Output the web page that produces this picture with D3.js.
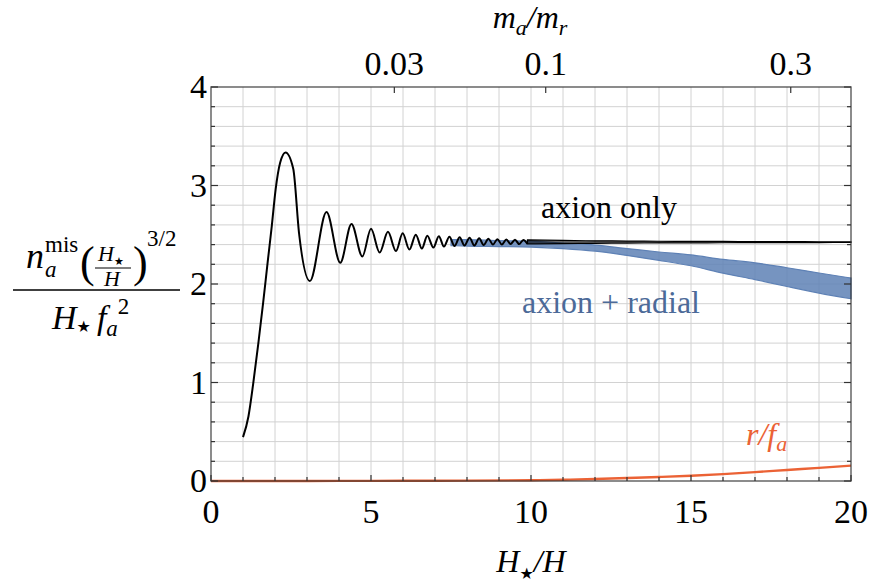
<!DOCTYPE html>
<html>
<head>
<meta charset="utf-8">
<script src="https://cdn.jsdelivr.net/npm/d3@7"></script>
<style>
  body { margin: 0; background: #fff; }
  text { font-family: "Liberation Serif", "DejaVu Serif", serif; fill: #000; }
  .it { font-style: italic; }
</style>
</head>
<body>
<svg id="chart" width="870" height="588"></svg>
<script>
// ---- data ----
var xTicks = [0, 5, 10, 15, 20];
var yTicks = [0, 1, 2, 3, 4];
var topTicks = [0.03, 0.1, 0.3];
var topTickLabels = ["0.03", "0.1", "0.3"];
var topMax = 0.3656;   // m_a/m_r at H*/H = 20

// axion only : rise + resolved extrema
var axionX = [1.0, 1.17, 1.32, 1.48, 1.63, 1.77, 1.90, 2.02, 2.16, 2.33, 2.57, 2.75, 3.09,
  3.61, 4.04, 4.39, 4.73, 5.0, 5.27, 5.53, 5.78, 5.99, 6.20, 6.40, 6.59, 6.76, 6.95, 7.12,
  7.28, 7.45, 7.61, 7.77, 7.92, 8.08, 8.23, 8.38, 8.52, 8.67, 8.81, 8.95, 9.09, 9.23,
  9.36, 9.50, 9.63, 9.76, 9.89];
var axionY = [0.445, 0.655, 0.99, 1.40, 1.81, 2.22, 2.59, 2.96, 3.23, 3.335, 3.17, 2.52, 2.03,
  2.73, 2.216, 2.61, 2.28, 2.56, 2.32, 2.53, 2.334, 2.514, 2.35, 2.50, 2.36, 2.49, 2.37, 2.486,
  2.38, 2.48, 2.385, 2.475, 2.39, 2.47, 2.39, 2.465, 2.395, 2.46, 2.40, 2.455, 2.40, 2.452,
  2.405, 2.45, 2.405, 2.447, 2.408];

// axion only : dense part, envelope of the oscillation
var axionBandX = [9.89, 11, 12, 13, 14, 15, 16, 17, 18, 19, 20];
var axionBandHi = [2.447, 2.442, 2.438, 2.436, 2.434, 2.433, 2.432, 2.431, 2.430, 2.429, 2.429];
var axionBandLo = [2.408, 2.410, 2.413, 2.415, 2.417, 2.418, 2.419, 2.420, 2.421, 2.421, 2.422];

// axion + radial : envelope of the oscillation
var radialX = [7.5, 8, 9, 10, 11, 12, 13, 14, 15, 16, 17, 18, 19, 20];
var radialHi = [2.45, 2.45, 2.44, 2.435, 2.415, 2.395, 2.36, 2.325, 2.295, 2.25, 2.215, 2.165, 2.112, 2.06];
var radialLo = [2.39, 2.385, 2.38, 2.375, 2.36, 2.334, 2.29, 2.24, 2.185, 2.11, 2.045, 1.975, 1.908, 1.85];

// r / f_a
var rX = [0, 2, 4, 6, 8, 10, 11, 12, 13, 14, 15, 16, 17, 18, 19, 20];
var rY = [0, 0, 0.001, 0.002, 0.004, 0.008, 0.013, 0.02, 0.03, 0.041, 0.054, 0.07, 0.09, 0.112, 0.133, 0.156];

// ---- drawing ----
var svg = d3.select("#chart");
var pL = 211, pR = 851, pT = 87, pB = 481;

var x = d3.scaleLinear().domain([0, 20]).range([pL, pR]);
var y = d3.scaleLinear().domain([0, 4]).range([pB, pT]);
var xTop = d3.scalePow().exponent(0.5).domain([0, topMax]).range([pL, pR]);

// grid
var grid = svg.append("g").attr("stroke", "#d2d2d2").attr("stroke-width", 1);
grid.selectAll("line.gx").data(d3.range(1, 20)).enter().append("line")
  .attr("x1", function(d) { return x(d); }).attr("x2", function(d) { return x(d); })
  .attr("y1", pT).attr("y2", pB);
grid.selectAll("line.gy").data(d3.range(1, 20).map(function(i) { return i * 0.2; })).enter().append("line")
  .attr("y1", function(d) { return y(d); }).attr("y2", function(d) { return y(d); })
  .attr("x1", pL).attr("x2", pR);

function pts(xs, ys) { return xs.map(function(v, i) { return [v, ys[i]]; }); }
function band(xs, hi, lo) { return xs.map(function(v, i) { return [v, hi[i], lo[i]]; }); }

var line = d3.line().curve(d3.curveMonotoneX)
  .x(function(d) { return x(d[0]); }).y(function(d) { return y(d[1]); });
var area = d3.area().curve(d3.curveMonotoneX)
  .x(function(d) { return x(d[0]); })
  .y0(function(d) { return y(d[2]); }).y1(function(d) { return y(d[1]); });

// axion + radial band
svg.append("path").datum(band(radialX, radialHi, radialLo))
  .attr("d", area).attr("fill", "#5E81B5").attr("fill-opacity", 0.85)
  .attr("stroke", "#5E81B5").attr("stroke-width", 1.2);

// axion only
svg.append("path").datum(pts(axionX, axionY))
  .attr("d", line).attr("fill", "none").attr("stroke", "#000").attr("stroke-width", 2);
svg.append("path").datum(band(axionBandX, axionBandHi, axionBandLo))
  .attr("d", area).attr("fill", "#000").attr("fill-opacity", 0.6)
  .attr("stroke", "#000").attr("stroke-width", 1.2);

// r/f_a
svg.append("path").datum(pts(rX, rY))
  .attr("d", line).attr("fill", "none").attr("stroke", "#EB6235").attr("stroke-width", 2.4);

// frame
svg.append("rect").attr("x", pL).attr("y", pT).attr("width", pR - pL).attr("height", pB - pT)
  .attr("fill", "none").attr("stroke", "#333").attr("stroke-width", 1.4).attr("stroke-opacity", 0.8);

// ticks
var ticks = svg.append("g").attr("stroke", "#333").attr("stroke-width", 1.2);
d3.range(0, 21).forEach(function(i) {
  var len = (i % 5 === 0) ? 6 : 4;
  ticks.append("line").attr("x1", x(i)).attr("x2", x(i)).attr("y1", pB).attr("y2", pB - len);
});
d3.range(0, 21).forEach(function(i) {
  var v = i * 0.2, len = (i % 5 === 0) ? 7 : 4;
  ticks.append("line").attr("y1", y(v)).attr("y2", y(v)).attr("x1", pL).attr("x2", pL + len);
  ticks.append("line").attr("y1", y(v)).attr("y2", y(v)).attr("x1", pR).attr("x2", pR - len);
});
topTicks.forEach(function(t) {
  ticks.append("line").attr("x1", xTop(t)).attr("x2", xTop(t)).attr("y1", pT).attr("y2", pT + 6);
});

// tick labels
var fs = 32, tfs = 34;
svg.selectAll("text.xt").data(xTicks).enter().append("text")
  .attr("x", function(d) { return x(d); }).attr("y", 523)
  .attr("text-anchor", "middle").attr("font-size", tfs).text(function(d) { return d; });
svg.selectAll("text.yt").data(yTicks).enter().append("text")
  .attr("x", 207).attr("y", function(d) { return y(d) + 11; })
  .attr("text-anchor", "end").attr("font-size", tfs).text(function(d) { return d; });
svg.selectAll("text.tt").data(topTicks).enter().append("text")
  .attr("x", function(d) { return xTop(d); }).attr("y", 75)
  .attr("text-anchor", "middle").attr("font-size", tfs).text(function(d, i) { return topTickLabels[i]; });

// axis titles
var tb = svg.append("text").attr("x", 531).attr("y", 572).attr("text-anchor", "middle").attr("font-size", fs);
tb.append("tspan").attr("class", "it").text("H");
tb.append("tspan").attr("font-size", 16).attr("dy", 7).attr("font-family", "DejaVu Sans").text("★");
tb.append("tspan").attr("dy", -7).attr("class", "it").text("/H");

var tt = svg.append("text").attr("x", 530).attr("y", 28).attr("text-anchor", "middle").attr("font-size", fs);
tt.append("tspan").attr("class", "it").text("m");
tt.append("tspan").attr("class", "it").attr("font-size", 22).attr("dy", 7).text("a");
tt.append("tspan").attr("class", "it").attr("dy", -7).text("/m");
tt.append("tspan").attr("class", "it").attr("font-size", 22).attr("dy", 7).text("r");

// y label as a stacked fraction
var yl = svg.append("g");
yl.append("text").attr("class", "it").attr("x", 26).attr("y", 268).attr("font-size", 36).text("n");
yl.append("text").attr("x", 45).attr("y", 252).attr("font-size", 23).text("mis");
yl.append("text").attr("class", "it").attr("x", 45).attr("y", 277).attr("font-size", 23).text("a");
yl.append("text").attr("x", 80).attr("y", 277).attr("font-size", 44).attr("font-weight", 300).text("(");
var inH = yl.append("text").attr("x", 98).attr("y", 261).attr("font-size", 22);
inH.append("tspan").attr("class", "it").text("H");
inH.append("tspan").attr("font-size", 11).attr("dy", 4).attr("font-family", "DejaVu Sans").text("★");
yl.append("line").attr("x1", 95).attr("x2", 131).attr("y1", 268).attr("y2", 268).attr("stroke", "#000").attr("stroke-width", 1.2);
yl.append("text").attr("class", "it").attr("x", 104).attr("y", 286).attr("font-size", 22).text("H");
yl.append("text").attr("x", 133).attr("y", 277).attr("font-size", 44).attr("font-weight", 300).text(")");
yl.append("text").attr("x", 147).attr("y", 246).attr("font-size", 23).text("3/2");
yl.append("line").attr("x1", 13).attr("x2", 180).attr("y1", 290).attr("y2", 290).attr("stroke", "#000").attr("stroke-width", 1.6);
var den = yl.append("text").attr("x", 52).attr("y", 329).attr("font-size", 34);
den.append("tspan").attr("class", "it").text("H");
den.append("tspan").attr("font-size", 16).attr("dy", 3).attr("font-family", "DejaVu Sans").text("★");
den.append("tspan").attr("dy", -3).attr("dx", 6).attr("class", "it").text("f");
den.append("tspan").attr("class", "it").attr("font-size", 23).attr("dy", 7).text("a");
den.append("tspan").attr("font-size", 23).attr("dy", -22).text("2");

// curve labels
svg.append("text").attr("x", 541).attr("y", 218).attr("font-size", fs).text("axion only");
svg.append("text").attr("x", 522).attr("y", 313).attr("font-size", fs).style("fill", "#4C6A98").text("axion + radial");
var rl = svg.append("text").attr("x", 746).attr("y", 445).attr("font-size", fs).style("fill", "#EB6235");
rl.append("tspan").attr("class", "it").style("fill", "#EB6235").text("r/f");
rl.append("tspan").attr("class", "it").style("fill", "#EB6235").attr("font-size", 22).attr("dy", 6).text("a");
</script>
</body>
</html>
